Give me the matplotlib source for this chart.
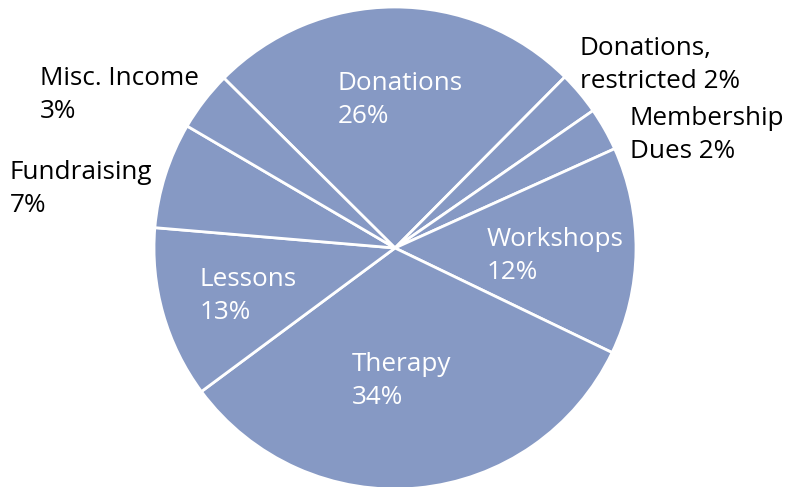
import matplotlib.pyplot as plt

# Categorias e participações (medidas pelos ângulos do gráfico)
categorias = ["Donations", "Donations, restricted", "Membership Dues", "Workshops",
              "Therapy", "Lessons", "Fundraising", "Misc. Income"]
valores = [25.0, 2.9, 2.9, 13.9, 32.7, 11.5, 7.1, 4.0]
rotulos = ["Donations\n26%", "Donations,\nrestricted 2%", "Membership\nDues 2%",
           "Workshops\n12%", "Therapy\n34%", "Lessons\n13%", "Fundraising\n7%",
           "Misc. Income\n3%"]

# posição (px, canto superior esquerdo) e cor de cada rótulo
pos_rotulos = [(338, 71), (580, 36), (630, 106), (487, 227), (352, 352),
               (200, 267), (10, 160), (40, 66)]
cor_rotulos = ["white", "black", "black", "white", "white", "white", "black", "black"]

W, H = 786, 487
fig = plt.figure(figsize=(W / 100, H / 100), dpi=100)
cx, cy, r = 395, 248, 241
ax = fig.add_axes([(cx - r) / W, (H - cy - r) / H, 2 * r / W, 2 * r / H])

ax.pie(valores, startangle=135.2, counterclock=False, colors=["#8699c4"] * len(valores),
       wedgeprops=dict(edgecolor="white", linewidth=2))
ax.set_xlim(-1.0, 1.0)
ax.set_ylim(-1.0, 1.0)
ax.set_aspect("equal")
ax.axis("off")

for txt, (x, y), c in zip(rotulos, pos_rotulos, cor_rotulos):
    fig.text(x / W, 1 - y / H, txt, ha="left", va="top", color=c,
             fontsize=18.8, family="Open Sans", linespacing=1.42)

plt.savefig("out.png", dpi=100)
